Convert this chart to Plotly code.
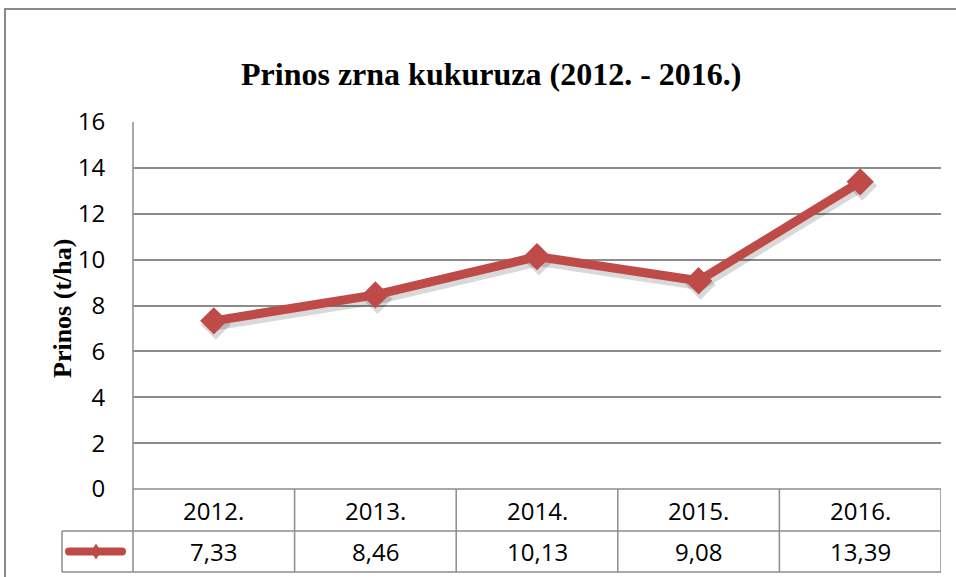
import plotly.graph_objects as go

years = ["2012.", "2013.", "2014.", "2015.", "2016."]
yields = [7.33, 8.46, 10.13, 9.08, 13.39]
y_ticks = [0, 2, 4, 6, 8, 10, 12, 14, 16]
title_text = "Prinos zrna kukuruza (2012. - 2016.)"
y_title = "Prinos (t/ha)"

W, H = 956, 577
L, R, T, B = 133, 941, 122, 489  # plot area pixel box
RED = "#BE4B48"
GRID = "#8C8C8C"
SANS = "Open Sans, Liberation Sans, sans-serif"
SERIF = "Liberation Serif, Times New Roman, serif"


def px(x):
    return (x - L) / (R - L)


def py(y):
    return (B - y) / (B - T)


xs = list(range(len(years)))
n = len(years)
ymax = 16
# shadow offset in pixels, converted to data units
sdx = 2 / ((R - L) / n)
sdy = 4 / ((B - T) / ymax)

fig = go.Figure()
# soft shadow (base axes, shifted ranges)
fig.add_trace(go.Scatter(
    x=xs, y=yields, mode="lines+markers", xaxis="x", yaxis="y",
    line=dict(color="rgba(0,0,0,0.15)", width=11),
    marker=dict(symbol="diamond", size=23, color="rgba(0,0,0,0.15)"),
    showlegend=False, hoverinfo="skip", cliponaxis=False,
))
fig.add_trace(go.Scatter(
    x=xs, y=yields, mode="lines+markers", xaxis="x2", yaxis="y2",
    line=dict(color=RED, width=9),
    marker=dict(symbol="diamond", size=21, color=RED),
    showlegend=False, hoverinfo="skip", cliponaxis=False,
))

shapes = []
# outer chart border
shapes.append(dict(type="rect", xref="paper", yref="paper",
                   x0=px(5), x1=px(1000), y0=py(9), y1=py(620),
                   line=dict(color="#8A8A8A", width=2), fillcolor="rgba(0,0,0,0)", layer="below"))
# table lines
row1, row2, row3 = 489, 531, 572
tbl_line = dict(color=GRID, width=1.5)
shapes.append(dict(type="line", xref="paper", yref="paper", x0=px(L), x1=px(R), y0=py(row1), y1=py(row1), line=tbl_line))
shapes.append(dict(type="line", xref="paper", yref="paper", x0=px(62), x1=px(R), y0=py(row2), y1=py(row2), line=tbl_line))
shapes.append(dict(type="line", xref="paper", yref="paper", x0=px(62), x1=px(R), y0=py(row3), y1=py(row3), line=tbl_line))
shapes.append(dict(type="line", xref="paper", yref="paper", x0=px(62), x1=px(62), y0=py(row2), y1=py(row3), line=tbl_line))
shapes.append(dict(type="line", xref="paper", yref="paper", x0=px(L), x1=px(L), y0=py(T), y1=py(row3), line=tbl_line))
for i in range(n):
    shapes.append(dict(type="line", xref="x2", yref="paper", x0=i + 0.5, x1=i + 0.5,
                       y0=py(row1), y1=py(row3), line=tbl_line))
# legend key: rounded bar + narrow diamond
ky = (row2 + row3) / 2
x0k, x1k, hk = 65, 126, 4
path = (f"M {px(x0k + hk)},{py(ky - hk)} L {px(x1k - hk)},{py(ky - hk)} "
        f"Q {px(x1k)},{py(ky - hk)} {px(x1k)},{py(ky)} Q {px(x1k)},{py(ky + hk)} {px(x1k - hk)},{py(ky + hk)} "
        f"L {px(x0k + hk)},{py(ky + hk)} Q {px(x0k)},{py(ky + hk)} {px(x0k)},{py(ky)} "
        f"Q {px(x0k)},{py(ky - hk)} {px(x0k + hk)},{py(ky - hk)} Z")
shapes.append(dict(type="path", xref="paper", yref="paper", path=path, fillcolor=RED, line=dict(width=0)))
cx, rx, ry = 96, 5, 8
shapes.append(dict(type="path", xref="paper", yref="paper",
                   path=f"M {px(cx - rx)},{py(ky)} L {px(cx)},{py(ky - ry)} L {px(cx + rx)},{py(ky)} L {px(cx)},{py(ky + ry)} Z",
                   fillcolor=RED, line=dict(width=0)))

annotations = []
annotations.append(dict(text=f"<b>{title_text}</b>", xref="paper", yref="paper", x=px(491), y=py(74),
                        showarrow=False, font=dict(family=SERIF, size=32, color="black"),
                        xanchor="center", yanchor="middle"))
annotations.append(dict(text=f"<b>{y_title}</b>", xref="paper", yref="paper", x=px(62), y=py(309),
                        showarrow=False, textangle=-90, font=dict(family=SERIF, size=26, color="black"),
                        xanchor="center", yanchor="middle"))
for i, (yr, v) in enumerate(zip(years, yields)):
    annotations.append(dict(text=yr, xref="x2", yref="paper", x=i, y=py((row1 + row2) / 2),
                            showarrow=False, font=dict(family=SANS, size=24, color="black"),
                            xanchor="center", yanchor="middle"))
    annotations.append(dict(text=f"{v:.2f}".replace(".", ","), xref="x2", yref="paper", x=i, y=py(ky),
                            showarrow=False, font=dict(family=SANS, size=24, color="black"),
                            xanchor="center", yanchor="middle"))

fig.update_layout(
    width=W, height=H,
    margin=dict(l=L, r=W - R, t=T, b=H - B, pad=0),
    paper_bgcolor="white", plot_bgcolor="white",
    shapes=shapes, annotations=annotations,
    xaxis=dict(range=[-0.5 - sdx, n - 0.5 - sdx], showgrid=False, zeroline=False,
               showticklabels=False, ticks="", showline=False, fixedrange=True),
    yaxis=dict(range=[0 + sdy, ymax + sdy], showgrid=False, zeroline=False,
               showticklabels=False, ticks="", showline=False, fixedrange=True),
    xaxis2=dict(range=[-0.5, n - 0.5], overlaying="x", showgrid=False, zeroline=False,
                showticklabels=False, ticks="", showline=False, fixedrange=True),
    yaxis2=dict(range=[0, ymax], overlaying="y", side="left", tickvals=y_ticks, showgrid=True,
                gridcolor=GRID, gridwidth=1.5, zeroline=False, showline=False, ticks="outside",
                ticklen=22, tickcolor="rgba(0,0,0,0)",
                tickfont=dict(family=SANS, size=24, color="black"), fixedrange=True),
)

fig.write_html("out.html")
